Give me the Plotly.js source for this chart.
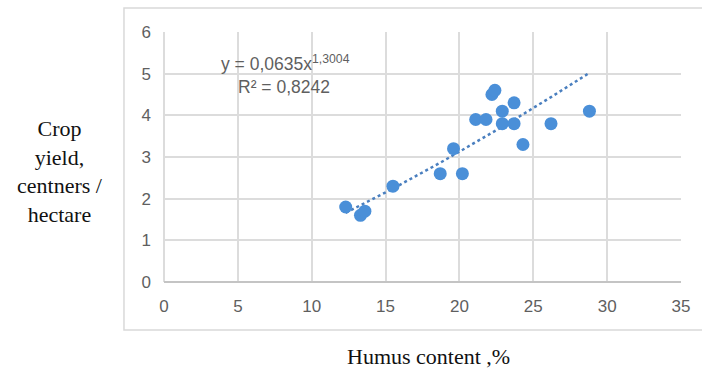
<!DOCTYPE html>
<html>
<head>
<meta charset="utf-8">
<script src="https://cdn.plot.ly/plotly-3.0.1.min.js"></script>
<style>
  html, body { margin: 0; padding: 0; background: #ffffff; }
  #chart { width: 702px; height: 370px; }
</style>
</head>
<body>
<div id="chart"></div>
<script>
// Humus content, % (x) and crop yield, centners / hectare (y)
const humus = [12.3, 13.3, 13.6, 15.5, 18.7, 19.6, 20.2, 21.1, 21.8, 22.2, 22.4, 22.9, 22.9, 23.7, 23.7, 24.3, 26.2, 28.8];
const cropYield = [1.8, 1.6, 1.7, 2.3, 2.6, 3.2, 2.6, 3.9, 3.9, 4.5, 4.6, 4.1, 3.8, 4.3, 3.8, 3.3, 3.8, 4.1];

// Power trendline shown on the chart: y = a * x^b
const trendA = 0.0635;
const trendB = 1.3004;
const trendLabel = "y = 0,0635x<sup>1,3004</sup>";
const r2Label = "R² = 0,8242";

const xTicks = [0, 5, 10, 15, 20, 25, 30, 35];
const yTicks = [0, 1, 2, 3, 4, 5, 6];

const xTitle = "Humus content ,%";
const yTitleLines = ["Crop", "yield,", "centners /", "hectare"];

const trendX = humus.slice().sort((a, b) => a - b);
const trendY = trendX.map(x => trendA * Math.pow(x, trendB));

const gridColor = "#dcdcdc";
const tickFont = { family: "Liberation Sans, Arial, sans-serif", size: 17, color: "#5f5f5f" };

const data = [
  {
    x: trendX, y: trendY, type: "scatter", mode: "lines",
    line: { color: "#4a7fbf", width: 2.5, dash: "dot" },
    hoverinfo: "skip", showlegend: false
  },
  {
    x: humus, y: cropYield, type: "scatter", mode: "markers",
    marker: { color: "#4a8fd8", size: 13 },
    showlegend: false
  }
];

const layout = {
  width: 702, height: 370,
  margin: { l: 164, r: 21, t: 32, b: 88 },
  paper_bgcolor: "#ffffff", plot_bgcolor: "#ffffff",
  showlegend: false,
  xaxis: {
    range: [0, 35], tickvals: xTicks, ticktext: xTicks.map(String),
    showgrid: true, gridcolor: gridColor, gridwidth: 2,
    zeroline: true, zerolinecolor: gridColor, zerolinewidth: 2,
    showline: false, ticks: "", tickfont: tickFont, ticklabelstandoff: 12,
    fixedrange: true
  },
  yaxis: {
    range: [0, 6], tickvals: yTicks, ticktext: yTicks.map(String),
    showgrid: true, gridcolor: gridColor, gridwidth: 2,
    zeroline: true, zerolinecolor: "#c4c4c4", zerolinewidth: 2,
    showline: false, ticks: "", tickfont: tickFont, ticklabelstandoff: 12,
    fixedrange: true
  },
  shapes: [
    {
      type: "rect", xref: "paper", yref: "paper",
      x0: -0.0774, x1: 1.06, y0: -0.192, y1: 1.096,
      line: { color: "#d9d9d9", width: 1.5 }, fillcolor: "rgba(0,0,0,0)", layer: "below"
    }
  ],
  annotations: [
    {
      xref: "paper", yref: "paper", x: (285 - 164) / 517, y: (282 - 63) / 250,
      text: trendLabel, showarrow: false, xanchor: "center", yanchor: "middle",
      font: { family: "Liberation Sans, Arial, sans-serif", size: 17.5, color: "#5f5f5f" }
    },
    {
      xref: "paper", yref: "paper", x: (284 - 164) / 517, y: (282 - 87) / 250,
      text: r2Label, showarrow: false, xanchor: "center", yanchor: "middle",
      font: { family: "Liberation Sans, Arial, sans-serif", size: 17.5, color: "#5f5f5f" }
    },
    {
      xref: "paper", yref: "paper", x: (428 - 164) / 517, y: (282 - 356) / 250,
      text: xTitle, showarrow: false, xanchor: "center", yanchor: "middle",
      font: { family: "Liberation Serif, Times New Roman, serif", size: 22, color: "#111111" }
    },
    {
      xref: "paper", yref: "paper", x: (60 - 164) / 517, y: (282 - 171) / 250,
      text: yTitleLines.join("<br>"), showarrow: false, xanchor: "center", yanchor: "middle", align: "center",
      font: { family: "Liberation Serif, Times New Roman, serif", size: 22, color: "#111111" }
    }
  ]
};

Plotly.newPlot("chart", data, layout, { displayModeBar: false, staticPlot: true });
</script>
</body>
</html>
